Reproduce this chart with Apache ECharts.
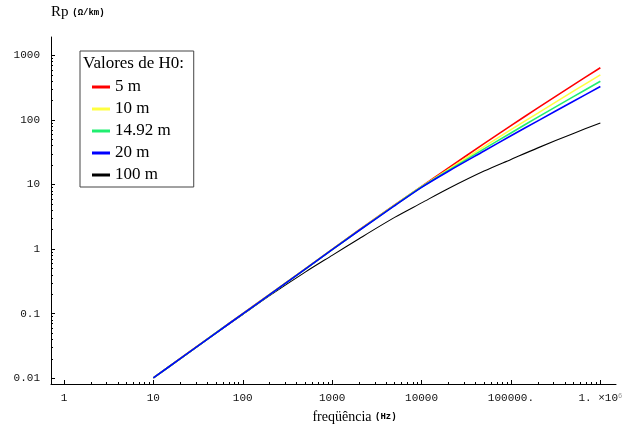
<!DOCTYPE html>
<html>
<head>
<meta charset="utf-8">
<script src="https://cdn.jsdelivr.net/npm/echarts@6/dist/echarts.min.js"></script>
<style>
  html, body { margin: 0; padding: 0; background: #fff; }
  #main { width: 630px; height: 430px; }
</style>
</head>
<body>
<div id="main"></div>
<script>
// frequências (Hz) e Rp (ohm/km)
var freq = [10, 20, 50, 100, 200, 500, 1000, 2000, 5000, 10000, 20000, 50000, 100000, 200000, 500000, 1000000];
var rp5 = [0.0101, 0.0202, 0.0503, 0.100, 0.199, 0.495, 0.99, 1.98, 4.85, 9.4, 18.1, 43.1, 82, 154, 351, 646];
var rp10 = [0.0101, 0.0201, 0.0502, 0.0995, 0.198, 0.493, 0.985, 1.96, 4.8, 9.25, 17.2, 38.7, 71, 128, 280, 501];
var rp1492 = [0.0101, 0.0201, 0.0501, 0.099, 0.197, 0.49, 0.98, 1.95, 4.75, 9.15, 16.6, 35.7, 63, 111, 230, 398];
var rp20 = [0.0101, 0.0201, 0.050, 0.099, 0.197, 0.49, 0.98, 1.94, 4.7, 9.05, 16.1, 33.1, 57, 97, 195, 331];
var rp100 = [0.0101, 0.0200, 0.0495, 0.097, 0.19, 0.44, 0.80, 1.45, 3.1, 5.2, 8.7, 16.2, 24.5, 37, 62, 90];

var seriesNames = ['5 m', '10 m', '14.92 m', '20 m', '100 m'];
var seriesColors = ['#ff0000', '#ffff40', '#20ee70', '#0000ff', '#000000'];

var xTickLabels = ['1', '10', '100', '1000', '10000', '100000.', '1. \u00d710{sup|6}'];
var yTickLabels = ['0.01', '0.1', '1', '10', '100', '1000'];

function lg(v) { return Math.log10(v); }
function pairs(vals) {
  return freq.map(function (f, i) { return [lg(f), lg(vals[i])]; });
}

// posições das marcas de escala (décadas e subdivisões 2..9)
var xMajor = [0, 1, 2, 3, 4, 5, 6];
var yMajor = [-2, -1, 0, 1, 2, 3];
function minors(d0, d1) {
  var out = [];
  for (var d = d0; d <= d1; d++) {
    for (var k = 2; k <= 9; k++) out.push(d + lg(k));
  }
  return out;
}
var xMinor = minors(0, 5);
var yMinor = minors(-2, 2);

var X_MIN = -0.145, X_MAX = 6.175, Y_MIN = -2.09, Y_MAX = 3.286;
var monoFont = 'Liberation Mono';
var serifFont = 'Liberation Serif';

var gridBox = { left: 51, right: 14, top: 37, bottom: 46 };

var chart = echarts.init(document.getElementById('main'));

var allData = [rp5, rp10, rp1492, rp20, rp100];
var order = [4, 0, 1, 2, 3];
var series = order.map(function (i) {
  return {
    name: seriesNames[i],
    type: 'line',
    xAxisIndex: 0,
    yAxisIndex: 0,
    showSymbol: false,
    smooth: 0.3,
    data: pairs(allData[i]),
    lineStyle: { color: seriesColors[i], width: i === 4 ? 1.1 : 1.6 },
    itemStyle: { color: seriesColors[i] },
    z: 2
  };
});

chart.setOption({
  animation: false,
  backgroundColor: '#fff',
  grid: [
    Object.assign({}, gridBox),
    Object.assign({}, gridBox)
  ],
  legend: {
    orient: 'vertical',
    left: 80,
    top: 51,
    data: seriesNames,
    icon: 'rect',
    itemWidth: 18,
    itemHeight: 3,
    itemGap: 4,
    padding: [27, 23, 3, 12],
    backgroundColor: '#fff',
    borderColor: '#444',
    borderWidth: 1,
    borderRadius: 0,
    textStyle: { fontFamily: serifFont, fontSize: 17, color: '#000', lineHeight: 18 },
    selectedMode: false
  },
  graphic: [{
    type: 'text',
    left: 83,
    top: 55,
    z: 100,
    style: { text: 'Valores de H0:', font: '17px "Liberation Serif"', fill: '#000' }
  }],
  xAxis: [{
    type: 'value',
    gridIndex: 0,
    min: X_MIN,
    max: X_MAX,
    splitLine: { show: false },
    axisLine: { onZero: false, lineStyle: { color: '#000', width: 1 } },
    axisTick: { inside: true, length: 4, customValues: xMajor, lineStyle: { color: '#000' } },
    axisLabel: {
      customValues: xMajor,
      margin: 8,
      fontFamily: monoFont,
      fontSize: 11,
      lineHeight: 13,
      color: '#111',
      formatter: function (v) { return xTickLabels[Math.round(v)]; },
      rich: { sup: { fontFamily: monoFont, fontSize: 7, lineHeight: 8, color: '#999', verticalAlign: 'middle', padding: [0, 0, 5, 0] } }
    },
    name: 'freqüência {small|(Hz)}',
    nameLocation: 'middle',
    nameGap: 20,
    nameTextStyle: {
      fontFamily: serifFont,
      fontSize: 14,
      color: '#000',
      padding: [0, 0, 0, 42],
      rich: { small: { fontFamily: monoFont, fontSize: 9, fontWeight: 'bold', color: '#000' } }
    }
  }, {
    type: 'value',
    gridIndex: 1,
    min: X_MIN,
    max: X_MAX,
    splitLine: { show: false },
    axisLine: { show: false, onZero: false },
    axisTick: { inside: true, length: 2, customValues: xMinor, lineStyle: { color: '#000' } },
    axisLabel: { show: false }
  }],
  yAxis: [{
    type: 'value',
    gridIndex: 0,
    min: Y_MIN,
    max: Y_MAX,
    splitLine: { show: false },
    axisLine: { onZero: false, lineStyle: { color: '#000', width: 1 } },
    axisTick: { inside: true, length: 4, customValues: yMajor, lineStyle: { color: '#000' } },
    axisLabel: {
      customValues: yMajor,
      margin: 11,
      fontFamily: monoFont,
      fontSize: 11,
      color: '#111',
      formatter: function (v) { return yTickLabels[Math.round(v) + 2]; }
    },
    name: 'Rp {small|(\u03a9/km)}',
    nameLocation: 'end',
    nameGap: 17,
    nameTextStyle: {
      fontFamily: serifFont,
      fontSize: 15,
      color: '#000',
      align: 'left',
      verticalAlign: 'bottom',
      rich: { small: { fontFamily: monoFont, fontSize: 9, fontWeight: 'bold', color: '#000' } }
    }
  }, {
    type: 'value',
    gridIndex: 1,
    min: Y_MIN,
    max: Y_MAX,
    splitLine: { show: false },
    axisLine: { show: false, onZero: false },
    axisTick: { inside: true, length: 2, customValues: yMinor, lineStyle: { color: '#000' } },
    axisLabel: { show: false }
  }],
  series: series
});
</script>
</body>
</html>
